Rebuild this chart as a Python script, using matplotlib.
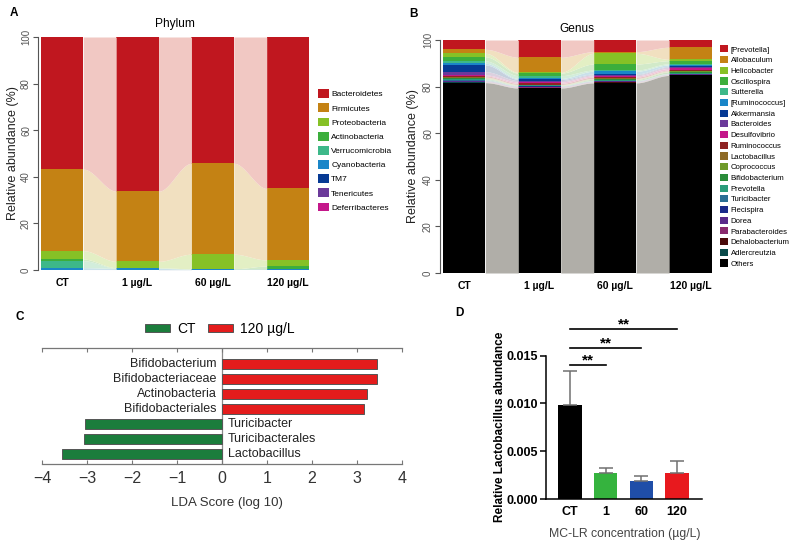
import numpy as np
import matplotlib
matplotlib.use('Agg')
import matplotlib.pyplot as plt
from matplotlib.patches import Patch
from matplotlib.colors import to_rgb

plt.rcParams['font.family'] = ['Liberation Sans', 'DejaVu Sans']

# ---------------- data ----------------
groups = ['CT', '1 µg/L', '60 µg/L', '120 µg/L']

phyla = ['Bacteroidetes', 'Firmicutes', 'Proteobacteria', 'Actinobacteria',
         'Verrucomicrobia', 'Cyanobacteria', 'TM7', 'Tenericutes', 'Deferribacteres']
phylum_colors = ['#c0171f', '#c48214', '#86c126', '#3cae3c', '#3db889',
                 '#1a86c8', '#063a94', '#6b3a9a', '#c4178a']
phylum_ct = [56.7, 35.0, 3.6, 0.7, 3.0, 0.8, 0.1, 0.05, 0.05]
phylum_1 = [66.2, 30.1, 2.7, 0.2, 0.1, 0.5, 0.1, 0.05, 0.05]
phylum_60 = [54.2, 39.0, 6.3, 0.1, 0.05, 0.2, 0.05, 0.05, 0.05]
phylum_120 = [65.0, 30.7, 2.6, 1.3, 0.05, 0.2, 0.05, 0.05, 0.05]

genera = ['[Prevotella]', 'Allobaculum', 'Helicobacter', 'Oscillospira', 'Sutterella',
          '[Ruminococcus]', 'Akkermansia', 'Bacteroides', 'Desulfovibrio', 'Ruminococcus',
          'Lactobacillus', 'Coprococcus', 'Bifidobacterium', 'Prevotella', 'Turicibacter',
          'Flecispira', 'Dorea', 'Parabacteroides', 'Dehalobacterium', 'Adlercreutzia', 'Others']
genus_colors = ['#c0171f', '#c48214', '#86c126', '#3cae3c', '#3db889',
                '#1a86c8', '#063a94', '#6b3a9a', '#c4178a', '#8e2323',
                '#8e6a25', '#6e9a2a', '#2a8c3a', '#2a9c7a', '#2a6e94',
                '#1a2a8a', '#5a2a8a', '#8a2a6e', '#4a0a0a', '#0a4a4a', '#000000']
genus_ct = [4.0, 1.7, 1.5, 1.8, 1.0, 0.7, 2.9, 1.4, 0.4, 0.5,
            0.3, 0.3, 0.2, 0.4, 0.4, 0.2, 0.2, 0.2, 0.1, 0.1, 81.7]
genus_1 = [7.4, 6.5, 0.3, 1.1, 1.2, 0.4, 0.5, 0.6, 0.6, 0.5,
           0.1, 0.2, 0.1, 0.2, 0.1, 0.2, 0.2, 0.2, 0.1, 0.1, 79.4]
genus_60 = [5.0, 0.7, 4.6, 2.6, 0.5, 1.2, 0.3, 0.5, 0.5, 0.6,
            0.1, 0.3, 0.4, 0.2, 0.1, 0.2, 0.2, 0.2, 0.1, 0.1, 81.6]
genus_120 = [3.1, 5.2, 0.6, 1.3, 0.5, 0.6, 0.3, 0.6, 0.7, 0.3,
             0.2, 0.3, 0.6, 0.2, 0.1, 0.1, 0.2, 0.1, 0.1, 0.1, 84.8]

lda_names = ['Bifidobacterium', 'Bifidobacteriaceae', 'Actinobacteria', 'Bifidobacteriales',
             'Turicibacter', 'Turicibacterales', 'Lactobacillus']
lda_scores = [3.45, 3.45, 3.22, 3.16, -3.04, -3.06, -3.55]
lda_legend = ['CT', '120 µg/L']
lda_colors = {'CT': '#1b7d3c', '120 µg/L': '#e41c1c'}

conc_labels = ['CT', '1', '60', '120']
lacto_mean = [0.0098, 0.0027, 0.0019, 0.0027]
lacto_sd = [0.0036, 0.0005, 0.0005, 0.0013]
lacto_colors = ['#000000', '#35b33e', '#1f4ea8', '#e8191e']
sig_pairs = [(0, 1), (0, 2), (0, 3)]
sig_levels = [0.0140, 0.01577, 0.0178]
sig_marks = ['**', '**', '**']

# ---------------- figure ----------------
W, H = 799, 545
fig = plt.figure(figsize=(W / 100, H / 100), dpi=100)


def px_axes(l, t, r, b):
    return fig.add_axes([l / W, 1 - b / H, (r - l) / W, (b - t) / H])


def flow_color(c):
    rgb = np.array(to_rgb(c))
    a = 0.31 if rgb.max() < 0.1 else 0.23
    bg = np.array([1.0, 0.99, 0.955])
    return tuple(a * rgb + (1 - a) * bg)


def alluvial(ax, table, colors, w=0.563):
    data = np.array(table, dtype=float)
    vals = data[:, ::-1]
    cols = colors[::-1]
    top = np.cumsum(vals, axis=1)
    bot = top - vals
    x = np.arange(data.shape[0])
    for j in range(vals.shape[1]):
        ax.bar(x, vals[:, j], bottom=bot[:, j], width=w, color=cols[j], linewidth=0)
        fc = flow_color(cols[j])
        for i in range(len(x) - 1):
            xs = np.linspace(x[i] + w / 2, x[i + 1] - w / 2, 80)
            t = (xs - xs[0]) / (xs[-1] - xs[0])
            s = t * t * (3 - 2 * t)
            lo = bot[i, j] + (bot[i + 1, j] - bot[i, j]) * s
            hi = top[i, j] + (top[i + 1, j] - top[i, j]) * s
            ax.fill_between(xs, lo, hi, color=fc, linewidth=0)
    ax.set_xlim(-0.32, len(x) - 1 + 0.32)
    ax.set_ylim(0, 100)
    for sp in ['top', 'right', 'bottom']:
        ax.spines[sp].set_visible(False)
    ax.spines['left'].set_color('#555555')
    ax.spines['left'].set_linewidth(0.8)
    ax.set_yticks([0, 20, 40, 60, 80, 100])
    ax.tick_params(axis='y', length=3.5, width=0.8, color='#555555', pad=1.5,
                   labelsize=7, labelcolor='#555555')
    for lab in ax.get_yticklabels():
        lab.set_rotation(90)
        lab.set_va('center')
    ax.set_xticks(x)
    ax.set_xticklabels(groups, fontweight='bold', fontsize=7.5)
    ax.tick_params(axis='x', length=0, pad=6)
    ax.set_ylabel('Relative abundance (%)', fontsize=9, color='#222222')


# Panel A
axA = px_axes(38, 37, 312, 270)
alluvial(axA, [phylum_ct, phylum_1, phylum_60, phylum_120], phylum_colors)
axA.set_title('Phylum', fontsize=8.6, pad=7)
axA.yaxis.set_label_coords(-0.069, 0.5)
axA.legend([Patch(facecolor=c, edgecolor='none') for c in phylum_colors], phyla,
           loc='upper left', bbox_to_anchor=(1.022, 0.776), frameon=False, fontsize=6,
           handlelength=1.28, handleheight=1.24, labelspacing=0.6, handletextpad=0.3,
           borderpad=0, borderaxespad=0)

# Panel B
axB = px_axes(440, 40, 714.5, 273)
alluvial(axB, [genus_ct, genus_1, genus_60, genus_120], genus_colors)
axB.set_title('Genus', fontsize=8.6, pad=6)
axB.yaxis.set_label_coords(-0.077, 0.5)
axB.legend([Patch(facecolor=c, edgecolor='none') for c in genus_colors], genera,
           loc='upper left', bbox_to_anchor=(1.02, 0.977), frameon=False, fontsize=5.6,
           handlelength=1.03, handleheight=1.03, labelspacing=0.32, handletextpad=0.35,
           borderpad=0, borderaxespad=0)

# Panel C
axC = px_axes(42, 348, 402, 464)
yc = np.arange(len(lda_names))
cgrp = ['120 µg/L' if s > 0 else 'CT' for s in lda_scores]
axC.barh(yc, lda_scores, height=0.68, color=[lda_colors[g] for g in cgrp],
         edgecolor='#555555', linewidth=0.7, zorder=2)
for yy, s, nm in zip(yc, lda_scores, lda_names):
    if s > 0:
        axC.text(-0.12, yy, nm, ha='right', va='center', fontsize=9, color='#222222')
    else:
        axC.text(0.13, yy, nm, ha='left', va='center', fontsize=9, color='#222222')
axC.axvline(0, color='#8a8a8a', linewidth=0.9, zorder=1)
axC.set_xlim(-4, 4)
axC.set_ylim(6.67, -1.07)
axC.set_yticks([])
axC.set_xticks(np.arange(-4, 5))
for sp in ['left', 'right']:
    axC.spines[sp].set_visible(False)
for sp in ['top', 'bottom']:
    axC.spines[sp].set_color('#777777')
    axC.spines[sp].set_linewidth(0.9)
axC.tick_params(axis='x', direction='in', length=3, color='#777777', top=True,
                labelsize=11.5, labelcolor='#333333', pad=5)
axC.set_xlabel('LDA Score (log 10)', fontsize=9.5, color='#333333')
axC.xaxis.set_label_coords(0.514, -0.285)
axC.legend([Patch(facecolor=lda_colors[g], edgecolor='#555555', linewidth=0.7) for g in lda_legend],
           lda_legend, loc='center', bbox_to_anchor=(0.494, 1.164), ncol=2, frameon=False,
           fontsize=10, handlelength=1.8, handleheight=0.6, handletextpad=0.55,
           columnspacing=0.85, borderpad=0, borderaxespad=0)

# Panel D
axD = px_axes(546, 322.3, 701.7, 499)
xd = np.arange(len(conc_labels))
axD.bar(xd, lacto_mean, width=0.66, color=lacto_colors, linewidth=0,
        yerr=[np.zeros(len(lacto_sd)), lacto_sd],
        error_kw=dict(ecolor='#707070', elinewidth=1.1, capsize=5, capthick=1.1))
axD.set_xlim(-0.67, 3.69)
axD.set_ylim(0, 0.0185)
axD.spines['left'].set_bounds(0, 0.015)
for sp in ['top', 'right']:
    axD.spines[sp].set_visible(False)
for sp in ['left', 'bottom']:
    axD.spines[sp].set_linewidth(1.1)
axD.set_yticks([0, 0.005, 0.010, 0.015])
axD.set_yticklabels(['%.3f' % v for v in [0, 0.005, 0.010, 0.015]], fontweight='bold', fontsize=9)
axD.tick_params(axis='y', length=4, width=1.1, pad=1.5)
axD.set_xticks(xd)
axD.set_xticklabels(conc_labels, fontweight='bold', fontsize=9)
axD.tick_params(axis='x', length=0, pad=5)
for (a, b), lvl, mk in zip(sig_pairs, sig_levels, sig_marks):
    axD.plot([xd[a], xd[b]], [lvl, lvl], color='black', linewidth=1.2, clip_on=False)
    axD.text((xd[a] + xd[b]) / 2, lvl + 0.0001, mk, ha='center', va='baseline',
             fontsize=11, fontweight='bold')
axD.set_ylabel('Relative Lactobacillus abundance', fontsize=8.5, fontweight='bold')
axD.yaxis.set_label_coords(-0.26, 0.41)
axD.set_xlabel('MC-LR concentration (µg/L)', fontsize=8.8, color='#444444')
axD.xaxis.set_label_coords(0.507, -0.165)

# panel letters
for lab, xx, yy in [('A', 14, 13.5), ('B', 414, 14), ('C', 20, 316.5), ('D', 459.5, 313)]:
    fig.text(xx / W, 1 - yy / H, lab, fontsize=8.5, fontweight='bold', ha='center', va='center')

fig.savefig('out.png', dpi=100)
